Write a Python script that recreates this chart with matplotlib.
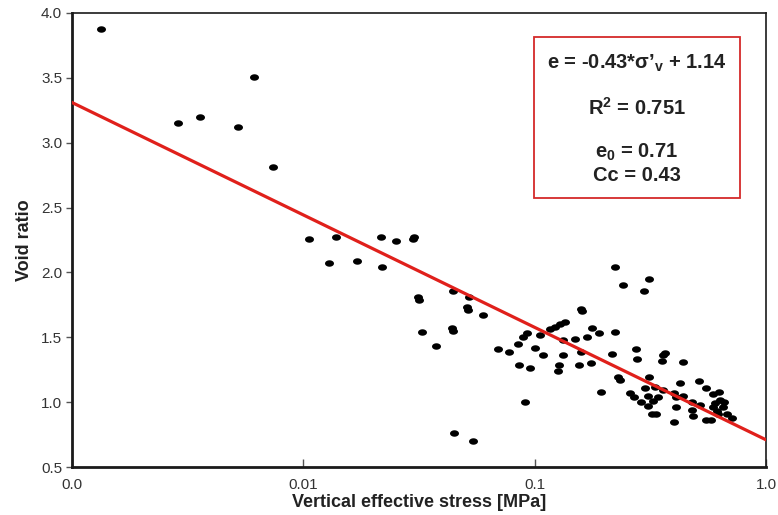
import numpy as np
import matplotlib.pyplot as plt
from matplotlib.patches import Rectangle

plt.rcParams['font.family'] = ['Liberation Sans', 'DejaVu Sans']
plt.rcParams['mathtext.fontset'] = 'custom'
plt.rcParams['mathtext.rm'] = 'Liberation Sans:bold'
plt.rcParams['mathtext.bf'] = 'Liberation Sans:bold'

# измеренные точки (напряжение, МПа / коэффициент пористости)
stress = [0.00134, 0.00287, 0.00359, 0.00524, 0.00612, 0.0074,
          0.0106, 0.0138, 0.0216, 0.0252, 0.0298, 0.0302,
          0.0129, 0.0171, 0.0219, 0.0313, 0.0317, 0.0326,
          0.0443, 0.052, 0.0509, 0.0515, 0.0597, 0.0438, 0.0442, 0.0375,
          0.0449, 0.0542, 0.0695, 0.0778, 0.0845, 0.0859, 0.0953, 0.0907,
          0.0893, 0.0925, 0.100, 0.1087, 0.106, 0.1167, 0.1225, 0.129, 0.135,
          0.133, 0.150, 0.127, 0.126, 0.132, 0.155, 0.159, 0.161, 0.158,
          0.169, 0.177, 0.189, 0.175, 0.194,
          0.223, 0.2415, 0.311, 0.297, 0.2234, 0.217, 0.229, 0.233,
          0.274, 0.278, 0.360, 0.355, 0.365, 0.436,
          0.313, 0.330, 0.360, 0.423, 0.515, 0.551, 0.593, 0.627,
          0.258, 0.268, 0.289, 0.31, 0.31, 0.326, 0.321, 0.334,
          0.408, 0.408, 0.399, 0.477, 0.485, 0.52, 0.55, 0.58,
          0.593, 0.63, 0.655, 0.677, 0.711, 0.612, 0.40, 0.44,
          0.48, 0.62, 0.66, 0.30, 0.34, 0.60]
void_ratio = [3.88, 3.15, 3.20, 3.12, 3.51, 2.81,
              2.26, 2.27, 2.27, 2.24, 2.26, 2.27,
              2.07, 2.09, 2.04, 1.81, 1.79, 1.54,
              1.86, 1.81, 1.73, 1.71, 1.67, 1.57, 1.55, 1.43,
              0.76, 0.70, 1.41, 1.39, 1.45, 1.29, 1.26, 1.00,
              1.50, 1.53, 1.42, 1.36, 1.52, 1.56, 1.58, 1.60, 1.62,
              1.48, 1.49, 1.29, 1.24, 1.36, 1.29, 1.72, 1.70, 1.39,
              1.50, 1.57, 1.53, 1.30, 1.08,
              2.04, 1.90, 1.95, 1.86, 1.54, 1.37, 1.19, 1.17,
              1.41, 1.33, 1.36, 1.32, 1.38, 1.31,
              1.19, 1.12, 1.09, 1.15, 1.16, 1.11, 1.06, 1.08,
              1.07, 1.04, 1.00, 1.05, 0.97, 1.01, 0.91, 0.91,
              1.04, 0.96, 0.85, 0.94, 0.89, 0.98, 0.86, 0.86,
              0.96, 1.02, 0.96, 0.91, 0.88, 0.93, 1.07, 1.05,
              1.00, 0.91, 1.00, 1.11, 1.04, 0.99]

# линия регрессии
line_x = [0.001, 1.0]
line_y = [3.31, 0.71]

xticks = [0.001, 0.01, 0.1, 1.0]
xtick_labels = ["0.0", "0.01", "0.1", "1.0"]
yticks = [0.5, 1.0, 1.5, 2.0, 2.5, 3.0, 3.5, 4.0]

# маркер - сплюснутый эллипс
t = np.linspace(0, 2 * np.pi, 25)
ellipse = np.column_stack([np.cos(t), 0.72 * np.sin(t)])

fig = plt.figure(figsize=(7.78, 5.15), dpi=100)
ax = fig.add_axes([0.0925, 0.0932, 0.892, 0.8816])

ax.scatter(stress, void_ratio, s=42, color='black', marker=ellipse, linewidths=0, zorder=3)
ax.plot(line_x, line_y, color='#e0201b', linewidth=2.3, zorder=4)

ax.set_xscale('log')
ax.set_xlim(0.001, 1.0)
ax.set_ylim(0.5, 4.0)
ax.set_xticks(xticks)
ax.set_xticklabels(xtick_labels)
ax.minorticks_off()
ax.set_yticks(yticks)
ax.set_yticklabels([f"{v:.1f}" for v in yticks])

ax.tick_params(axis='x', direction='in', length=6, width=1, colors='#555555',
               labelsize=11, labelcolor='#333333', pad=8)
ax.tick_params(axis='y', direction='out', length=4, width=1, colors='#555555',
               labelsize=11, labelcolor='#333333', pad=3)

ax.spines['left'].set_linewidth(2.0)
ax.spines['bottom'].set_linewidth(2.0)
ax.spines['top'].set_linewidth(1.2)
ax.spines['right'].set_linewidth(1.2)
for sp in ax.spines.values():
    sp.set_color('#1a1a1a')

ax.set_xlabel("Vertical effective stress [MPa]", fontsize=13, fontweight='bold',
              color='#222222', labelpad=1)
ax.set_ylabel("Void ratio", fontsize=13, fontweight='bold', color='#222222', labelpad=6)

# рамка с уравнением
ax.add_patch(Rectangle((0.6657, 0.5932), 0.2968, 0.3533, transform=ax.transAxes,
                       fill=False, edgecolor='#d42a2a', linewidth=1.3, zorder=5))
tx = 0.814
kw = dict(transform=ax.transAxes, ha='center', va='center', fontsize=14.5,
          fontweight='bold', color='#222222', zorder=6)
ax.text(tx, 0.890, "e = -0.43*σ’$_{\\mathbf{v}}$ + 1.14", **kw)
ax.text(tx, 0.791, "R$^{\\mathbf{2}}$ = 0.751", **kw)
ax.text(tx, 0.692, "e$_{\\mathbf{0}}$ = 0.71", **kw)
ax.text(tx, 0.641, "Cc = 0.43", **kw)

fig.savefig("out.png", dpi=100)
